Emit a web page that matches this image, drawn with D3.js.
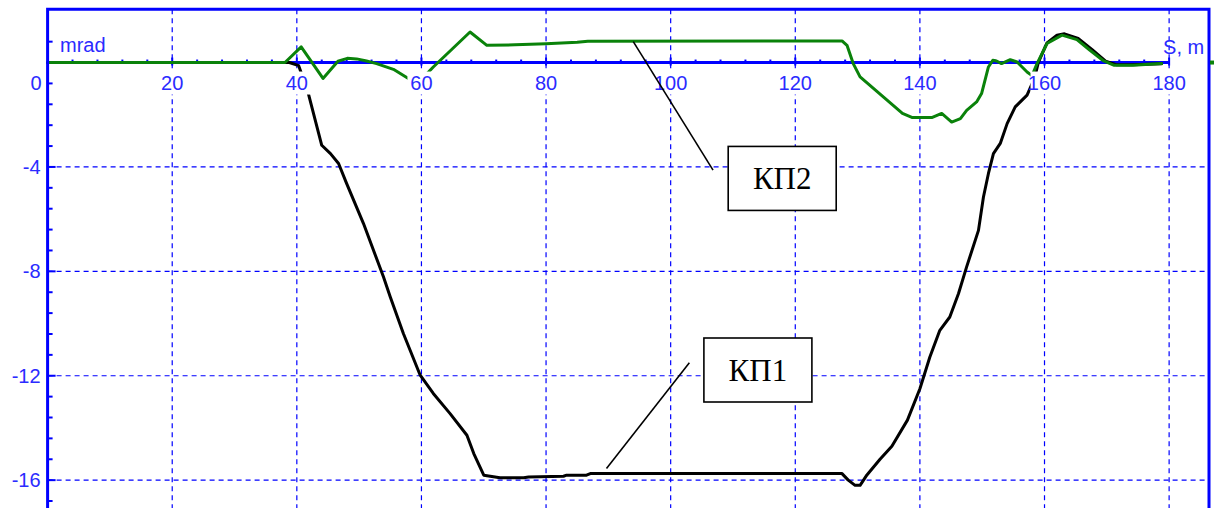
<!DOCTYPE html>
<html>
<head>
<meta charset="utf-8">
<script src="https://cdn.jsdelivr.net/npm/d3@7/dist/d3.min.js"></script>
<style>
  html, body { margin: 0; padding: 0; background: #fff; }
  svg { display: block; }
</style>
</head>
<body>
<svg id="chart" width="1216" height="508"></svg>
<script>
// Distance along the path, m
const kp1S = [0, 38.8, 40.3, 41.8, 44, 45.4, 46.7, 48, 50.7, 53.9, 55, 57.1, 59.8, 61.9, 64.6, 67.3, 68.4, 70,
  72.6, 76.4, 77.2, 82.8, 83.3, 86.5, 87.1, 127.5, 128.5, 129.6, 130.4, 131.5, 133.6, 135.5, 138, 140,
  141.6, 143.2, 144.8, 146.2, 147.5, 149.4, 150.2, 151, 151.8, 152.9, 154, 155.3, 157.2, 158.4, 159,
  160.4, 162, 163.2, 165.4, 167.6, 169.8, 171.5, 174, 178.8];
// КП1 angle, mrad
const kp1V = [0, 0, -0.12, -1.14, -3.17, -3.49, -3.87, -4.64, -6.17, -8.21, -8.98, -10.38, -11.98, -12.68, -13.45, -14.28, -14.98, -15.81,
  -15.91, -15.91, -15.88, -15.85, -15.81, -15.81, -15.75, -15.75, -16.0, -16.2, -16.2, -15.8, -15.2, -14.7, -13.7, -12.5,
  -11.28, -10.26, -9.75, -8.85, -7.83, -6.43, -5.15, -4.25, -3.49, -3.1, -2.34, -1.7, -1.25, -0.6, 0,
  0.75, 1.05, 1.1, 0.92, 0.5, 0.05, -0.08, -0.08, -0.05];

const kp2S = [0, 38.1, 40.7, 44.2, 46.6, 48.1, 49.6, 51.2, 52.8, 55.5, 57.9, 59.6, 61.9, 67.8, 70.5, 75, 80, 85, 86.7,
  127.5, 128.3, 129.3, 130.4, 137.2, 138.8, 141.9, 143.5, 145.1, 146.5, 147.5, 149.1, 149.9, 151, 151.7, 152.3,
  153.1, 154.5, 155.6, 157.2, 158.0, 158.8, 160.4, 162.8, 165.2, 167.3, 169.5, 171.1, 174.2, 178.8];
// КП2 angle, mrad
const kp2V = [0, 0, 0.6, -0.61, 0.05, 0.16, 0.14, 0.06, -0.04, -0.26, -0.61, -0.75, -0.17, 1.17, 0.66, 0.68, 0.72, 0.78, 0.82,
  0.83, 0.66, -0.04, -0.55, -1.95, -2.11, -2.11, -1.95, -2.28, -2.15, -1.83, -1.51, -1.19, -0.17, 0.09, 0.06,
  -0.04, 0.11, 0.02, -0.36, -0.5, -0.04, 0.73, 1.05, 0.88, 0.47, 0.06, -0.1, -0.1, -0.04];

const xTicks = [20, 40, 60, 80, 100, 120, 140, 160, 180];
const yTicks = [-4, -8, -12, -16];

// Callout labels: anchor on the curve, leader end, box centre (s, mrad)
const callouts = [
  { text: "КП2", anchor: [94.0, 0.80], end: [106.8, -4.12], box: [117.9, -4.44] },
  { text: "КП1", anchor: [89.7, -15.55], end: [103.0, -11.5], box: [114.0, -11.78] }
];

const W = 1216, H = 508;
const plotLeft = 47.6, plotRight = 1209, plotTop = 9.3;
const blue = "#0000ff", labelBlue = "#2b2bff";

const x = d3.scaleLinear().domain([0, 186.4]).range([plotLeft, plotRight]);
const y = d3.scaleLinear().domain([2.04, -17.6]).range([plotTop, plotTop + 19.64 * 26.1]);

const svg = d3.select("#chart");
svg.append("rect").attr("width", W).attr("height", H).attr("fill", "#fff");

// dashed grid
const grid = svg.append("g").attr("stroke", blue).attr("stroke-width", 1.2).attr("stroke-dasharray", "5,4");
grid.selectAll("line.v").data(xTicks).join("line").attr("class", "v")
  .attr("x1", d => x(d)).attr("x2", d => x(d))
  .attr("y1", plotTop).attr("y2", H);
grid.selectAll("line.h").data(yTicks).join("line").attr("class", "h")
  .attr("x1", plotLeft).attr("x2", plotRight)
  .attr("y1", d => y(d)).attr("y2", d => y(d));

// zero line with its small ticks
svg.append("line").attr("x1", x(0)).attr("x2", x(180))
  .attr("y1", y(0)).attr("y2", y(0)).attr("stroke", blue).attr("stroke-width", 3);
const xMinor = d3.range(4, 181, 4);
svg.append("g").selectAll("line").data(xMinor).join("line")
  .attr("x1", d => x(d)).attr("x2", d => x(d))
  .attr("y1", d => y(0) - (d % 20 === 0 ? 5 : 3)).attr("y2", d => y(0) + (d % 20 === 0 ? 3 : 0))
  .attr("stroke", blue).attr("stroke-width", 2);

// left-axis ticks every 0.8 mrad
const yMinor = d3.range(1, 22).map(k => -k * 0.8).concat([0.8]);
svg.append("g").selectAll("line").data(yMinor).join("line")
  .attr("x1", plotLeft).attr("x2", d => plotLeft + (Math.abs(d % 4) < 0.01 ? 8 : 5))
  .attr("y1", d => y(d)).attr("y2", d => y(d))
  .attr("stroke", blue).attr("stroke-width", 2);

// curves
const line = d3.line().x(d => x(d[0])).y(d => y(d[1]));
const kp1 = kp1S.map((s, i) => [s, kp1V[i]]);
const kp2 = kp2S.map((s, i) => [s, kp2V[i]]);
svg.append("path").datum(kp1).attr("d", line)
  .attr("fill", "none").attr("stroke", "#000").attr("stroke-width", 3)
  .attr("stroke-linejoin", "round").attr("stroke-linecap", "round");
svg.append("path").datum(kp2).attr("d", line)
  .attr("fill", "none").attr("stroke", "#0a820a").attr("stroke-width", 3)
  .attr("stroke-linejoin", "round").attr("stroke-linecap", "round");

// x tick labels on white plates
const font = "'Liberation Sans', Arial, sans-serif";
const xl = svg.append("g");
xTicks.forEach(t => {
  const g = xl.append("g").attr("transform", `translate(${x(t)},${y(0) + 20})`);
  g.append("rect").attr("x", -14).attr("y", -11).attr("width", 28).attr("height", 23).attr("fill", "#fff");
  g.append("text").attr("text-anchor", "middle").attr("dy", "0.35em")
    .attr("font-family", font).attr("font-size", 20).attr("fill", labelBlue).text(t);
});
// origin label
svg.append("text").attr("x", x(0) - 6).attr("y", y(0) + 20).attr("dy", "0.35em")
  .attr("text-anchor", "end").attr("font-family", font).attr("font-size", 20)
  .attr("fill", labelBlue).text(0);

// y tick labels
svg.append("g").selectAll("text").data(yTicks).join("text")
  .attr("x", plotLeft - 7).attr("y", d => y(d)).attr("dy", "0.35em")
  .attr("text-anchor", "end").attr("font-family", font).attr("font-size", 20)
  .attr("fill", labelBlue).text(d => d);

// frame
svg.append("path")
  .attr("d", `M${plotLeft},${H} V${plotTop} H${plotRight} V${H}`)
  .attr("fill", "none").attr("stroke", blue).attr("stroke-width", 3);
svg.append("rect").attr("x", plotRight + 1).attr("y", y(0) - 2).attr("width", 4).attr("height", 4).attr("fill", "#0a820a");

// axis titles
svg.append("text").attr("x", 60).attr("y", y(0) - 18).attr("dy", "0.35em")
  .attr("font-family", font).attr("font-size", 20).attr("fill", labelBlue).text("mrad");
svg.append("text").attr("x", x(180) - 6).attr("y", y(0) - 9)
  .attr("font-family", font).attr("font-size", 20).attr("fill", labelBlue).text("S, m");

// callouts
callouts.forEach(c => {
  svg.append("line")
    .attr("x1", x(c.anchor[0])).attr("y1", y(c.anchor[1]))
    .attr("x2", x(c.end[0])).attr("y2", y(c.end[1]))
    .attr("stroke", "#000").attr("stroke-width", 1.6);
  const cx = x(c.box[0]), cy = y(c.box[1]);
  svg.append("rect").attr("x", cx - 54).attr("y", cy - 32).attr("width", 108).attr("height", 64)
    .attr("fill", "#fff").attr("stroke", "#000").attr("stroke-width", 1.6);
  svg.append("text").attr("x", cx).attr("y", cy).attr("dy", "0.35em").attr("text-anchor", "middle")
    .attr("font-family", "'Liberation Serif', 'Times New Roman', serif").attr("font-size", 31)
    .attr("fill", "#000").text(c.text);
});
</script>
</body>
</html>
